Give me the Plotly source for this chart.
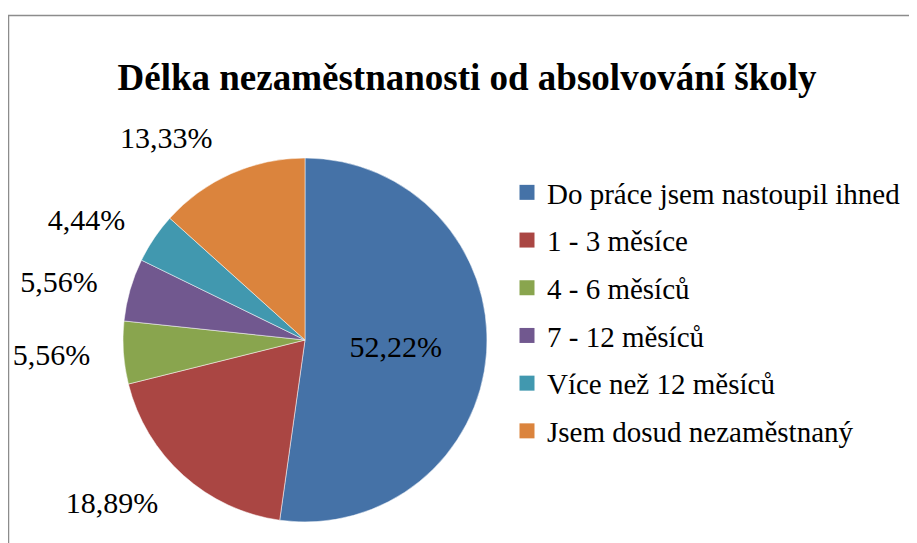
import plotly.graph_objects as go

title_text = "Délka nezaměstnanosti od absolvování školy"
categories = ["Do práce jsem nastoupil ihned", "1 - 3 měsíce", "4 - 6 měsíců",
              "7 - 12 měsíců", "Více než 12 měsíců", "Jsem dosud nezaměstnaný"]
shares = [52.22, 18.89, 5.56, 5.56, 4.44, 13.33]
colors = ["#4572A7", "#AA4643", "#89A54E", "#71588F", "#4198AF", "#DB843D"]

W, H = 917, 543
FONT = "Liberation Serif"
# the page body adds an 8px offset; positions below are in figure pixels
CX, CY, R = 297, 332, 182      # pie centre / radius
RL = 207                        # radius used for placing outside labels

def dom(r):
    return dict(x=[(CX - r) / W, (CX + r) / W], y=[(H - CY - r) / H, (H - CY + r) / H])

n = len(shares)
fig = go.Figure()
# main pie: only the big slice carries its label inside
fig.add_trace(go.Pie(
    labels=categories, values=shares, sort=False, direction="clockwise", rotation=0,
    marker=dict(colors=colors, line=dict(color="white", width=0.5)),
    texttemplate="%{percent:.2%}",
    textposition=["inside"] + ["none"] * (n - 1),
    insidetextorientation="horizontal",
    textfont=dict(family=FONT, size=30, color="black"),
    domain=dom(R), showlegend=False, hoverinfo="label+percent",
))
# transparent companion pie, only used to place the outside labels a bit farther out
fig.add_trace(go.Pie(
    labels=categories, values=shares, sort=False, direction="clockwise", rotation=0,
    marker=dict(colors=["rgba(0,0,0,0)"] * n, line=dict(width=0)),
    texttemplate="%{percent:.2%}",
    textposition=["none"] + ["outside"] * (n - 1),
    textfont=dict(family=FONT, size=30, color="black"),
    domain=dom(RL), showlegend=False, hoverinfo="skip",
))

# legend entries (square swatches) matching the pie slices
for name, col in zip(categories, colors):
    fig.add_trace(go.Scatter(
        x=[None], y=[None], mode="markers", name=name,
        marker=dict(symbol="square", size=15, color=col),
        legendgroup=name, showlegend=True, hoverinfo="skip",
    ))

fig.update_layout(
    width=W, height=H,
    margin=dict(l=0, r=0, t=0, b=0),
    paper_bgcolor="white", plot_bgcolor="rgba(0,0,0,0)",
    separators=",.",
    title=dict(text="<b>" + title_text + "</b>", x=459 / W, xanchor="center",
               y=1 - 69 / H, yanchor="middle",
               font=dict(family=FONT, size=37, color="black")),
    xaxis=dict(visible=False), yaxis=dict(visible=False),
    legend=dict(x=499 / W, xanchor="left", y=1 - 159 / H, yanchor="top",
                font=dict(family=FONT, size=29, color="black"),
                tracegroupgap=7, traceorder="grouped", bgcolor="rgba(0,0,0,0)"),
    shapes=[dict(type="rect", xref="paper", yref="paper",
                 x0=0.5 / W, x1=1.05, y0=-0.05, y1=1 - 7.5 / H,
                 line=dict(color="#8c8c8c", width=1.5), fillcolor="rgba(0,0,0,0)", layer="below")],
)

fig.write_html("out.html")
